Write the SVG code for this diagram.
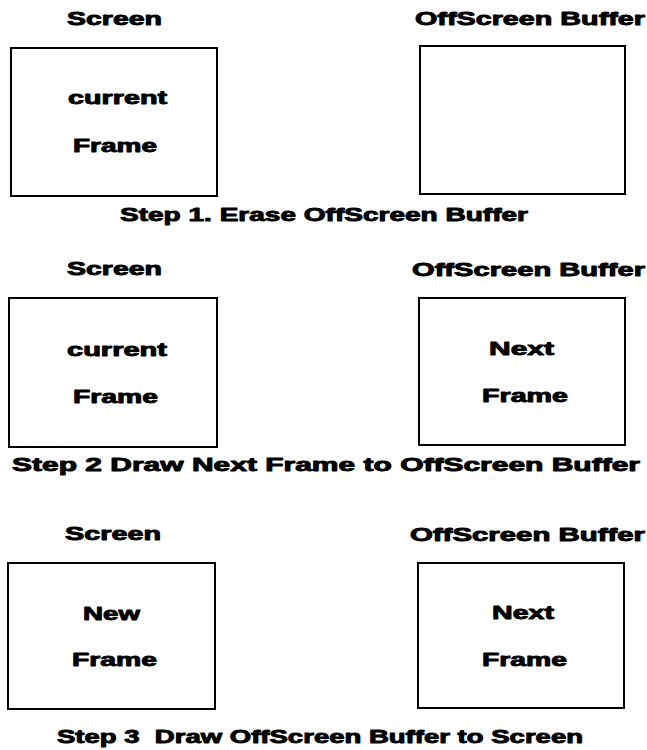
<svg xmlns="http://www.w3.org/2000/svg" width="647" height="750" viewBox="0 0 647 750">
<style>
.t{font-family:"Liberation Sans",Arial,sans-serif;font-weight:bold;font-size:18px;fill:#000;stroke:#000;stroke-width:0.9;stroke-linejoin:round}
.box{fill:#fff;stroke:#000;stroke-width:2}
</style>
<rect width="647" height="750" fill="#fff"/>
<g id="row1">
  <g id="screen1">
    <text class="t" x="67" y="25" textLength="95" lengthAdjust="spacingAndGlyphs">Screen</text>
    <rect class="box" x="11" y="48" width="206" height="148"/>
    <text class="t" x="68" y="104" textLength="99" lengthAdjust="spacingAndGlyphs">current</text>
    <text class="t" x="73" y="152" textLength="84" lengthAdjust="spacingAndGlyphs">Frame</text>
  </g>
  <g id="buffer1">
    <text class="t" x="415" y="25" textLength="230" lengthAdjust="spacingAndGlyphs">OffScreen Buffer</text>
    <rect class="box" x="420" y="46" width="205" height="148"/>
  </g>
  <text id="step1" class="t" x="120" y="221" textLength="408" lengthAdjust="spacingAndGlyphs">Step 1. Erase OffScreen Buffer</text>
</g>
<g id="row2">
  <g id="screen2">
    <text class="t" x="67" y="275" textLength="95" lengthAdjust="spacingAndGlyphs">Screen</text>
    <rect class="box" x="9" y="298" width="208" height="149"/>
    <text class="t" x="67" y="356" textLength="100" lengthAdjust="spacingAndGlyphs">current</text>
    <text class="t" x="73" y="403" textLength="85" lengthAdjust="spacingAndGlyphs">Frame</text>
  </g>
  <g id="buffer2">
    <text class="t" x="412" y="276" textLength="233" lengthAdjust="spacingAndGlyphs">OffScreen Buffer</text>
    <rect class="box" x="419" y="298" width="206" height="147"/>
    <text class="t" x="489" y="355" textLength="65" lengthAdjust="spacingAndGlyphs">Next</text>
    <text class="t" x="482" y="402" textLength="86" lengthAdjust="spacingAndGlyphs">Frame</text>
  </g>
  <text id="step2" class="t" x="12" y="471" textLength="628" lengthAdjust="spacingAndGlyphs">Step 2 Draw Next Frame to OffScreen Buffer</text>
</g>
<g id="row3">
  <g id="screen3">
    <text class="t" x="65" y="540" textLength="96" lengthAdjust="spacingAndGlyphs">Screen</text>
    <rect class="box" x="8" y="563" width="207" height="146"/>
    <text class="t" x="83" y="620" textLength="57" lengthAdjust="spacingAndGlyphs">New</text>
    <text class="t" x="72" y="666" textLength="85" lengthAdjust="spacingAndGlyphs">Frame</text>
  </g>
  <g id="buffer3">
    <text class="t" x="410" y="541" textLength="235" lengthAdjust="spacingAndGlyphs">OffScreen Buffer</text>
    <rect class="box" x="418" y="563" width="206" height="145"/>
    <text class="t" x="492" y="619" textLength="62" lengthAdjust="spacingAndGlyphs">Next</text>
    <text class="t" x="482" y="666" textLength="85" lengthAdjust="spacingAndGlyphs">Frame</text>
  </g>
  <text id="step3" class="t" x="57" y="743" textLength="526" lengthAdjust="spacingAndGlyphs" xml:space="preserve">Step 3  Draw OffScreen Buffer to Screen</text>
</g>
<g id="connectors"/>
</svg>
